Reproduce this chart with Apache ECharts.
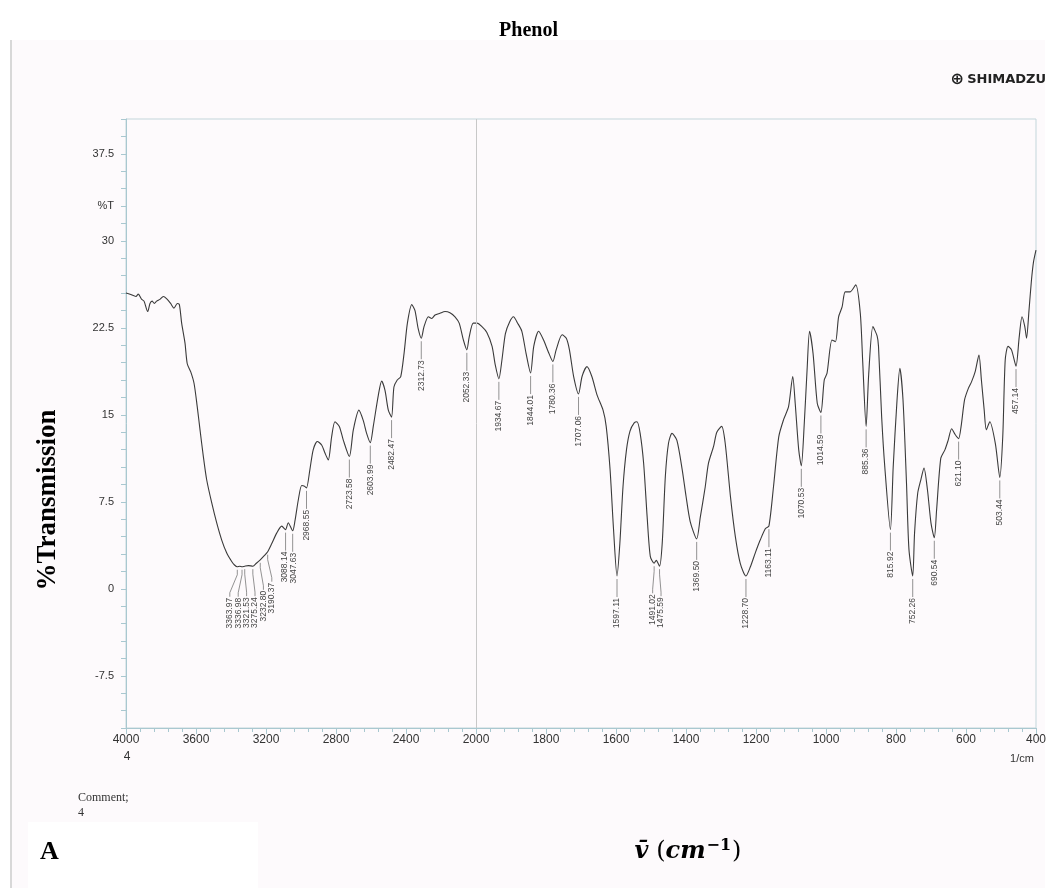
<!DOCTYPE html>
<html>
<head>
<meta charset="utf-8">
<title>Phenol</title>
<script src="https://cdn.jsdelivr.net/npm/echarts/dist/echarts.min.js"></script>
<style>
  html, body { margin: 0; padding: 0; background: #ffffff; }
  #ir { width: 1057px; height: 888px; }
</style>
</head>
<body>
<div id="ir"></div>
<script>
// spectrum: wavenumber (1/cm) and %T
var waveNumbers = [
  4000, 3977, 3943, 3930, 3910, 3897, 3876, 3863, 3851, 3838, 3825, 3806, 3787, 3767, 3745, 3726,
  3707, 3695, 3682, 3663, 3650, 3630, 3611, 3593, 3577, 3558, 3539, 3510, 3482, 3453, 3425, 3396,
  3380, 3363.97, 3350, 3336.98, 3321.53, 3300, 3275.24, 3255, 3232.8, 3210, 3190.37, 3167, 3139, 3110,
  3088.14, 3073, 3047.63, 3034, 3015, 2996, 2980, 2968.55, 2949, 2930, 2907, 2882, 2863, 2844, 2825,
  2806, 2781, 2758, 2723.58, 2701, 2669, 2644, 2625, 2603.99, 2587, 2558, 2539, 2520, 2501, 2482.47,
  2469, 2450, 2430, 2411, 2392, 2367, 2349, 2330, 2312.73, 2297, 2272, 2253, 2234, 2206, 2177, 2149,
  2120, 2096, 2073, 2052.33, 2039, 2016, 1997, 1983, 1969, 1954, 1945, 1934.67, 1926, 1916, 1904,
  1893, 1881, 1869, 1857, 1844.01, 1835, 1821, 1807, 1793, 1780.36, 1771, 1754, 1742, 1733, 1721,
  1707.06, 1697, 1683, 1669, 1654, 1637, 1628, 1617, 1607, 1597.11, 1589, 1580, 1570, 1560, 1548,
  1540, 1531, 1521, 1511, 1502, 1491.02, 1485, 1475.59, 1468, 1459, 1450, 1440, 1426, 1411, 1400,
  1388, 1369.5, 1359, 1345, 1336, 1321, 1312, 1298, 1288, 1273, 1259, 1245, 1228.7, 1216, 1202, 1188,
  1173, 1163.11, 1150, 1135, 1121, 1107, 1095, 1088, 1078, 1070.53, 1062, 1054, 1047, 1037, 1025,
  1014.59, 1005, 997, 983, 973, 964, 954, 945, 931, 915, 902, 895, 885.36, 878, 866, 854, 850, 841,
  832, 815.92, 808, 797, 789, 780, 770, 763, 752.26, 747, 738, 729, 720, 710, 700, 690.54, 684, 672,
  660, 651, 641, 631, 621.1, 614, 604, 593, 584, 574, 563, 556, 548, 542, 532, 516, 503.44, 495, 488,
  480, 470, 457.14, 448, 440, 432, 427, 420, 413, 407, 400
];
var transmission = [
  25.5, 25.4, 25.2, 25.4, 24.95, 24.8, 23.9, 24.6, 24.8, 24.6, 24.8, 24.95, 25.2, 25.0, 24.6, 24.2,
  24.6, 24.5, 22.9, 21.2, 19.4, 18.7, 17.7, 15.7, 13.7, 11.4, 9.4, 7.4, 5.7, 4.2, 3.1, 2.35,
  2.05, 1.9, 1.95, 1.9, 1.95, 2.0, 1.95, 2.2, 2.5, 2.85, 3.2, 3.9, 4.8, 5.4,
  5.1, 5.7, 5.0, 5.9, 7.7, 8.9, 8.85, 8.7, 10.3, 12.0, 12.7, 12.4, 11.7, 11.1, 13.1,
  14.4, 14.0, 12.8, 11.4, 13.7, 15.4, 14.5, 13.4, 12.6, 14.0, 16.7, 17.9, 17.1, 15.4, 14.8,
  17.4, 18.0, 18.3, 20.3, 22.9, 24.5, 24.0, 22.4, 21.6, 22.6, 23.45, 23.3, 23.6, 23.75, 23.9, 23.8,
  23.45, 22.9, 21.5, 20.6, 21.7, 22.9, 22.9, 22.6, 22.1, 20.9, 19.3, 18.1, 19.7, 22.0, 23.0,
  23.45, 22.9, 22.2, 20.3, 18.6, 20.9, 22.2, 21.45, 20.4, 19.6, 20.6, 21.9, 21.6, 20.6, 18.3,
  16.8, 18.3, 19.15, 18.3, 16.7, 15.4, 14.0, 10.3, 5.1, 1.1, 3.9, 8.8, 12.0, 13.6, 14.3,
  14.4, 13.4, 10.8, 6.2, 2.8, 2.2, 2.45, 1.95, 3.9, 9.7, 12.55, 13.4, 12.8, 10.3, 8.0,
  5.8, 4.3, 6.2, 8.8, 10.8, 12.3, 13.5, 14.0, 12.55, 7.95, 4.5, 2.2, 1.1, 1.9, 3.1, 4.2,
  5.2, 5.4, 8.8, 13.1, 14.6, 15.7, 18.3, 16.0, 12.0, 10.6, 14.3, 18.9, 22.2, 20.3, 16.0,
  15.2, 18.0, 18.6, 21.45, 21.3, 23.45, 24.3, 25.6, 25.6, 26.2, 23.75, 19.5, 14.0, 18.5, 22.6, 21.8, 20.9, 14.84,
  10.5, 5.1, 10.5, 16.3, 19.0, 16.3, 9.1, 3.4, 1.1, 4.8, 8.24, 9.4, 10.4, 8.5, 5.66, 4.4, 6.8, 11.26,
  12.0, 12.8, 13.8, 13.3, 12.95, 14.0, 16.3, 17.3, 17.86, 18.7, 20.15, 18.0, 15.4, 13.7, 14.4, 12.5, 9.6, 13.1, 19.7,
  20.9, 20.6, 19.2, 21.7, 23.45, 22.6, 21.6, 24.0, 26.6, 28.2, 29.2
];
// labelled peaks
var peakLabels = [
  3363.97, 3336.98, 3321.53, 3275.24, 3232.80, 3190.37, 3088.14, 3047.63, 2968.55, 2723.58, 2603.99,
  2482.47, 2312.73, 2052.33, 1934.67, 1844.01, 1780.36, 1707.06, 1597.11, 1491.02, 1475.59, 1369.50,
  1228.70, 1163.11, 1070.53, 1014.59, 885.36, 815.92, 752.26, 690.54, 621.10, 503.44, 457.14
];
var xTickLabels = [4000, 3600, 3200, 2800, 2400, 2000, 1800, 1600, 1400, 1200, 1000, 800, 600, 400];
var yTickLabels = [-7.5, 0, 7.5, 15, 22.5, 30, 37.5];

// the Shimadzu chart runs 4000-2000 at half the scale of 2000-400
function toAxis(wn) {
  return wn >= 2000 ? (4000 - wn) / 2 : 1000 + (2000 - wn);
}
function transmissionAt(wn) {
  for (var i = 1; i < waveNumbers.length; i++) {
    if (waveNumbers[i] <= wn) {
      var a = waveNumbers[i - 1], b = waveNumbers[i];
      var f = a === b ? 0 : (a - wn) / (a - b);
      return transmission[i - 1] + f * (transmission[i] - transmission[i - 1]);
    }
  }
  return transmission[transmission.length - 1];
}

var curve = waveNumbers.map(function (wn, i) {
  return [toAxis(wn), transmission[i]];
});

// spread crowded peak labels apart
var GAP = 24;
var peakT = peakLabels.map(toAxis);
var clusters = [];
peakT.forEach(function (t, i) {
  clusters.push({ idx: [i], center: t });
  while (clusters.length > 1) {
    var b = clusters[clusters.length - 1], a = clusters[clusters.length - 2];
    var aEnd = a.center + (a.idx.length - 1) * GAP / 2;
    var bStart = b.center - (b.idx.length - 1) * GAP / 2;
    if (bStart - aEnd >= GAP) break;
    var idx = a.idx.concat(b.idx);
    var mean = idx.reduce(function (s, k) { return s + peakT[k]; }, 0) / idx.length;
    clusters.splice(-2, 2, { idx: idx, center: mean });
  }
});
var labelT = [];
clusters.forEach(function (c) {
  c.idx.forEach(function (k, j) {
    labelT[k] = c.center + (j - (c.idx.length - 1) / 2) * GAP;
  });
});
var peakData = peakLabels.map(function (wn, i) {
  return [peakT[i], transmissionAt(wn), labelT[i]];
});

var axisColor = '#a9c8d0';
var myChart = echarts.init(document.getElementById('ir'));
var option = {
  backgroundColor: '#ffffff',
  animation: false,
  title: {
    text: 'Phenol',
    left: 'center',
    top: 16,
    textStyle: { fontFamily: 'Liberation Serif', fontWeight: 'bold', fontSize: 20, color: '#000' }
  },
  grid: {
    left: 126,
    right: 21,
    top: 119,
    bottom: 160,
    show: true,
    borderColor: '#c3d6db',
    borderWidth: 1,
    backgroundColor: 'transparent'
  },
  xAxis: {
    type: 'value',
    min: 0,
    max: 2600,
    interval: 200,
    axisLine: { onZero: false, lineStyle: { color: axisColor } },
    axisTick: { length: 6, lineStyle: { color: axisColor } },
    minorTick: { show: true, splitNumber: 5, length: 4, lineStyle: { color: axisColor } },
    splitLine: { show: false },
    axisLabel: {
      margin: 6,
      fontFamily: 'Liberation Sans',
      fontSize: 12,
      color: '#333',
      formatter: function (t) {
        var wn = t <= 1000 ? 4000 - 2 * t : 2000 - (t - 1000);
        return xTickLabels.indexOf(wn) >= 0 ? String(wn) : '';
      }
    }
  },
  yAxis: {
    type: 'value',
    min: -12,
    max: 40.5,
    interval: 1.5,
    axisLine: { show: true, onZero: false, lineStyle: { color: axisColor } },
    axisTick: { length: 5, lineStyle: { color: axisColor } },
    splitLine: { show: false },
    axisLabel: {
      margin: 12,
      fontFamily: 'Liberation Sans',
      fontSize: 11,
      color: '#333',
      formatter: function (v) {
        if (Math.abs(v - 33) < 1e-6) return '%T';
        for (var i = 0; i < yTickLabels.length; i++) {
          if (Math.abs(v - yTickLabels[i]) < 1e-6) return String(yTickLabels[i]);
        }
        return '';
      }
    }
  },
  series: [
    {
      type: 'line',
      data: curve,
      showSymbol: false,
      smooth: 0.25,
      lineStyle: { color: '#3a3a3a', width: 1.1 },
      markLine: {
        silent: true,
        symbol: 'none',
        label: { show: false },
        lineStyle: { color: '#c8c8c8', width: 1, type: 'solid' },
        data: [{ xAxis: toAxis(2000) }]
      },
      z: 3
    },
    {
      type: 'custom',
      data: peakData,
      z: 4,
      renderItem: function (params, api) {
        var p = api.coord([api.value(0), api.value(1)]);
        var q = api.coord([api.value(2), api.value(1)]);
        var bent = Math.abs(q[0] - p[0]) > 1;
        var drop = bent ? 30 : 21;
        var pts = bent
          ? [[p[0], p[1] + 3], [p[0], p[1] + 8], [q[0], p[1] + drop - 4], [q[0], p[1] + drop]]
          : [[p[0], p[1] + 3], [p[0], p[1] + drop]];
        return {
          type: 'group',
          children: [
            {
              type: 'polyline',
              shape: { points: pts },
              style: { stroke: '#777', lineWidth: 0.8, fill: null }
            },
            {
              type: 'text',
              x: q[0],
              y: p[1] + drop + 1,
              rotation: Math.PI / 2,
              style: {
                text: peakLabels[params.dataIndex].toFixed(2),
                align: 'right',
                verticalAlign: 'middle',
                fontFamily: 'Liberation Sans',
                fontSize: 8.5,
                fill: '#444'
              }
            }
          ]
        };
      }
    }
  ],
  graphic: [
    { type: 'rect', shape: { x: 12, y: 40, width: 1033, height: 848 }, style: { fill: '#fdfafc' }, z: -10 },
    { type: 'rect', shape: { x: 10, y: 40, width: 2, height: 848 }, style: { fill: '#d8d8d8' }, z: -9 },
    { type: 'rect', shape: { x: 28, y: 822, width: 230, height: 66 }, style: { fill: '#ffffff' }, z: -8 },
    {
      type: 'text', x: 1046, y: 80,
      style: { text: '{i|\u2295} {t|SHIMADZU}', align: 'right', verticalAlign: 'middle',
        rich: {
          i: { fontFamily: 'DejaVu Sans', fontWeight: 'bold', fontSize: 16, fill: '#222' },
          t: { fontFamily: 'DejaVu Sans', fontWeight: 'bold', fontSize: 13, fill: '#222' }
        } }
    },
    {
      type: 'text', x: 48, y: 500, rotation: Math.PI / 2,
      style: { text: '%Transmission', align: 'center', verticalAlign: 'middle',
        fontFamily: 'Liberation Serif', fontWeight: 'bold', fontSize: 27, fill: '#000' }
    },
    {
      type: 'text', x: 127, y: 757,
      style: { text: '4', align: 'center', verticalAlign: 'middle',
        fontFamily: 'Liberation Sans', fontSize: 12, fill: '#333' }
    },
    {
      type: 'text', x: 1022, y: 759,
      style: { text: '1/cm', align: 'center', verticalAlign: 'middle',
        fontFamily: 'Liberation Sans', fontSize: 11, fill: '#333' }
    },
    {
      type: 'text', x: 78, y: 790,
      style: { text: 'Comment;\n4', align: 'left', verticalAlign: 'top', lineHeight: 15,
        fontFamily: 'Liberation Serif', fontSize: 12, fill: '#333' }
    },
    {
      type: 'text', x: 688, y: 852,
      style: {
        text: '{v|v\u0304}{p|\u00a0(}{n|cm}{s|\u22121}{p|)}',
        align: 'center',
        verticalAlign: 'middle',
        rich: {
          v: { fontFamily: 'DejaVu Serif', fontStyle: 'italic', fontWeight: 'bold', fontSize: 24, fill: '#000' },
          p: { fontFamily: 'DejaVu Serif', fontWeight: 'normal', fontSize: 24, fill: '#000' },
          n: { fontFamily: 'DejaVu Serif', fontStyle: 'italic', fontWeight: 'bold', fontSize: 24, fill: '#000' },
          s: { fontFamily: 'DejaVu Serif', fontWeight: 'bold', fontSize: 16, fill: '#000', verticalAlign: 'top', padding: [0, 1, 12, 1] }
        }
      }
    },
    {
      type: 'text', x: 40, y: 852,
      style: { text: 'A', align: 'left', verticalAlign: 'middle',
        fontFamily: 'Liberation Serif', fontWeight: 'bold', fontSize: 26, fill: '#000' }
    }
  ]
};
myChart.setOption(option);
</script>
</body>
</html>
